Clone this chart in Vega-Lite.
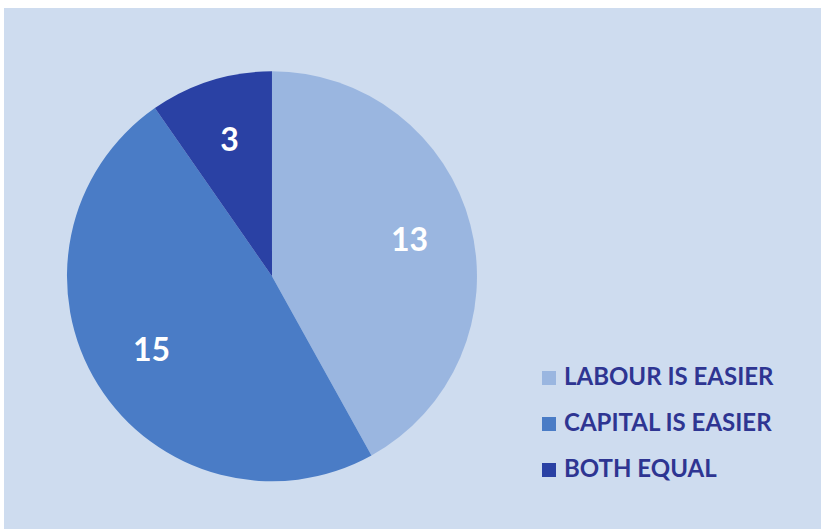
{
  "$schema": "https://vega.github.io/schema/vega-lite/v6.json",
  "width": 817,
  "height": 521,
  "autosize": {"type": "none"},
  "padding": {"left": 4, "top": 8, "right": 0, "bottom": 2},
  "background": "#ffffff",
  "view": {"fill": "#cedcef", "stroke": null},
  "data": {
    "values": [
      {"answer": "LABOUR IS EASIER", "count": 13, "rank": 1},
      {"answer": "CAPITAL IS EASIER", "count": 15, "rank": 2},
      {"answer": "BOTH EQUAL", "count": 3, "rank": 3}
    ]
  },
  "encoding": {
    "theta": {"field": "count", "type": "quantitative", "stack": true},
    "order": {"field": "rank", "type": "quantitative"},
    "x": {"datum": 0.328, "type": "quantitative", "scale": {"domain": [0, 1]}, "axis": null},
    "y": {"datum": 0.515, "type": "quantitative", "scale": {"domain": [1, 0]}, "axis": null}
  },
  "layer": [
    {
      "mark": {"type": "arc", "radius": 205, "stroke": null},
      "encoding": {
        "color": {
          "field": "answer",
          "type": "nominal",
          "scale": {
            "domain": ["LABOUR IS EASIER", "CAPITAL IS EASIER", "BOTH EQUAL"],
            "range": ["#9ab6e0", "#4a7cc6", "#2a41a4"]
          },
          "legend": {
            "orient": "none",
            "legendX": 533,
            "legendY": 358,
            "title": null,
            "symbolType": "square",
            "symbolSize": 196,
            "symbolStrokeWidth": 0,
            "labelFont": "Lato",
            "labelFontSize": 24,
            "labelFontWeight": 700,
            "labelColor": "#2e3592",
            "labelOffset": 3,
            "labelLimit": 0,
            "rowPadding": 22
          }
        }
      }
    },
    {
      "mark": {
        "type": "text",
        "radius": 142,
        "font": "Lato",
        "fontSize": 32,
        "fontWeight": 700,
        "color": "#ffffff",
        "baseline": "middle",
        "align": "center"
      },
      "encoding": {
        "text": {"field": "count", "type": "quantitative"}
      }
    }
  ]
}
